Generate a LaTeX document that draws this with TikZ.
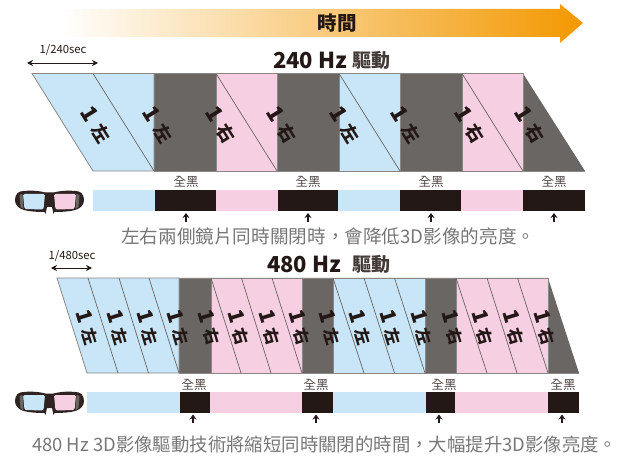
\documentclass[tikz,border=0pt]{standalone}
\usepackage{fontspec}
\setmainfont{Noto Sans CJK TC}
\usetikzlibrary{arrows.meta}
\definecolor{lensblue}{HTML}{C9E6F8}
\definecolor{lenspink}{HTML}{F6CFE3}
\definecolor{darkgrey}{HTML}{6A6663}
\definecolor{inkblack}{HTML}{231815}
\definecolor{edgegrey}{HTML}{8A8785}
\definecolor{bodygrey}{HTML}{777777}
\definecolor{timeorange}{HTML}{F39800}
\newcommand{\fs}[1]{\fontsize{#1}{#1}\selectfont}
\newcommand{\fullcomma}{\char"FF0C\relax}
\newcommand{\myglasses}[2]{%
  \begin{scope}[shift={(#1,#2)}]
    \fill[inkblack!95] (-34.5,-2) .. controls (-34.5,-8) and (-31,-11) .. (-26,-11)
      .. controls (-15,-12) and (-8,-10.5) .. (-4,-9.5) -- (4,-9.5)
      .. controls (8,-10.5) and (15,-12) .. (26,-11)
      .. controls (31,-11) and (34.5,-8) .. (34.5,-2)
      .. controls (34.5,3) and (31,6) .. (27,7.5)
      .. controls (22,9.5) and (12,10) .. (5,10) -- (4,12) -- (2.5,5) -- (-2.5,5) -- (-4,12) -- (-5,10)
      .. controls (-12,10) and (-22,9.5) .. (-27,7.5)
      .. controls (-31,6) and (-34.5,3) .. (-34.5,-2) -- cycle;
    \fill[darkgrey] (-30,-7) -- (-27,-8) -- (-26,7) -- (-29,5) -- cycle;
    \fill[darkgrey] (30,-7) -- (27,-8) -- (26,7) -- (29,5) -- cycle;
    \fill[lensblue,rounded corners=1.5] (-26.5,-8) -- (-4.5,-8) -- (-6,7.5) -- (-25,7) -- cycle;
    \fill[lenspink,rounded corners=1.5] (26.5,-8) -- (4.5,-8) -- (6,7.5) -- (25,7) -- cycle;
  \end{scope}}
\tikzset{
  bandedge/.style={draw=edgegrey,line width=.8pt},
  thinline/.style={draw=darkgrey,line width=.7pt},
  framelabel/.style={text=inkblack,font=\fs{18}\bfseries,inner sep=0pt},
  blacklabel/.style={text=inkblack!80,font=\fs{12.5},inner sep=0pt},
  bodytext/.style={text=bodygrey,font=\fs{18.62},inner sep=0pt},
  hztitle/.style={text=inkblack,font=\fs{22}\bfseries,inner sep=0pt},
  drivetitle/.style={text=inkblack!85,font=\fs{19}\bfseries,inner sep=0pt},
  timelabel/.style={text=inkblack,font=\fs{11.3},inner sep=0pt},
  spanarrow/.style={draw=inkblack,line width=.9pt,{Stealth[length=6pt,width=6pt]}-{Stealth[length=6pt,width=6pt]}},
  pointarrow/.style={draw=inkblack,line width=1.3pt,-{Stealth[length=5pt,width=7pt]}}
}
\begin{document}
\begin{tikzpicture}[x=1pt,y=-1pt]
\useasboundingbox (0,0) rectangle (619,457);
% time arrow
\shade[left color=white,right color=timeorange]
  (60,9) -- (560,9) -- (560,4) -- (583,23) -- (560,43) -- (560,37) -- (60,37) -- cycle;
\node[text=inkblack,font=\fs{19.5}\bfseries,inner sep=0pt] (timetitle) at (337,23) {時間};

% ---------- 240 Hz ----------
\node[timelabel] (t240) at (63,50) {1/240sec};
\coordinate (s240a) at (27,63); \coordinate (s240b) at (98,63);
\draw[spanarrow] (s240a) -- (s240b);
\node[hztitle,anchor=west] (hz240) at (273,60) {240 Hz};
\node[drivetitle,anchor=west] (dr240) at (352,60) {驅動};

\fill[darkgrey] (154,73.5) -- (523,73.5) -- (585,171) -- (154,171) -- cycle;
\draw[bandedge,fill=lensblue] (32,73.5) -- (154,73.5) -- (154,171) -- (93,171) -- cycle;
\draw[bandedge,fill=lenspink] (216,73.5) rectangle (277,171);
\draw[bandedge,fill=lensblue] (339,73.5) rectangle (400,171);
\draw[bandedge,fill=lenspink] (462,73.5) rectangle (523,171);
\draw[edgegrey,line width=.8pt] (154,73.5) -- (523,73.5) (154,171) -- (585,171);
\foreach \a/\b in {93/154,216/277,339/400,462/523}
  \draw[thinline] (\a,73.5) -- (\b,171);
\foreach \x/\t [count=\i] in {96/左,158/左,221/右,282/右,345/左,406/左,470/右,530/右}
  \node[framelabel,rotate=-58] (la\i) at (\x,125) {{\fs{22}1}\hspace{7pt}\t};

\fill[lensblue] (93,190) rectangle (155,211);
\fill[inkblack] (155,190) rectangle (216,211);
\fill[lenspink] (216,190) rectangle (278,211);
\fill[inkblack] (278,190) rectangle (338,211);
\fill[lensblue] (338,190) rectangle (400,211);
\fill[inkblack] (400,190) rectangle (461,211);
\fill[lenspink] (461,190) rectangle (523,211);
\fill[inkblack] (523,190) rectangle (585,211);
\foreach \x [count=\i] in {186,308,431,554}{
  \node[blacklabel] (ka\i) at (\x,182) {全黑};
  \coordinate (ta\i) at (\x,222); \coordinate (ha\i) at (\x,213);
  \draw[pointarrow] (ta\i) -- (ha\i);
}
\myglasses{49.5}{202}
\node[bodytext,anchor=west] (body240) at (121,236) {左右兩側鏡片同時關閉時\fullcomma 會降低3D影像的亮度。};

% ---------- 480 Hz ----------
\node[timelabel] (t480) at (72,256) {1/480sec};
\coordinate (s480a) at (51,268); \coordinate (s480b) at (92,268);
\draw[spanarrow] (s480a) -- (s480b);
\node[hztitle,anchor=west] (hz480) at (267,264) {480 Hz};
\node[drivetitle,anchor=west] (dr480) at (352,264) {驅動};

\fill[darkgrey] (179,278) -- (548,278) -- (579,373) -- (179,373) -- cycle;
\draw[bandedge,fill=lensblue] (57,278) -- (179,278) -- (179,373) -- (87,373) -- cycle;
\draw[bandedge,fill=lenspink] (211,278) rectangle (302,373);
\draw[bandedge,fill=lensblue] (333,278) rectangle (425,373);
\draw[bandedge,fill=lenspink] (456,278) rectangle (548,373);
\draw[edgegrey,line width=.8pt] (179,278) -- (548,278) (179,373) -- (579,373);
\foreach \a/\b in {88/118,119/148.5,149/179,211/241,241.5/271,272/302,333/364,364/394.5,394.5/425,456/487,487/517,517.5/548}
  \draw[thinline] (\a,278) -- (\b,373);
\foreach \x/\t [count=\i] in {87.5/左,118/左,148/左,178.5/左,209.5/右,239/右,270/右,300/右,330/左,360.5/左,391/左,422/左,453/右,483/右,514/右,545/右}
  \node[framelabel,rotate=-73,font=\fs{16.5}\bfseries] (lb\i) at (\x,327) {{\fs{21}1}\hspace{6pt}\t};

\fill[lensblue] (87,392) rectangle (180,413);
\fill[inkblack] (180,392) rectangle (210,413);
\fill[lenspink] (210,392) rectangle (302,413);
\fill[inkblack] (302,392) rectangle (333,413);
\fill[lensblue] (333,392) rectangle (426,413);
\fill[inkblack] (426,392) rectangle (455,413);
\fill[lenspink] (455,392) rectangle (548,413);
\fill[inkblack] (548,392) rectangle (579,413);
\foreach \x/\y [count=\i] in {194/193,316/316,444/439,563/562}{
  \node[blacklabel] (kb\i) at (\x,385) {全黑};
  \coordinate (tb\i) at (\y,423); \coordinate (hb\i) at (\y,414.5);
  \draw[pointarrow] (tb\i) -- (hb\i);
}
\myglasses{49.5}{403}
\node[bodytext,anchor=west,font=\fs{18.4}] (body480) at (32,445) {480 Hz 3D影像驅動技術將縮短同時關閉的時間\fullcomma 大幅提升3D影像亮度。};
\end{tikzpicture}
\end{document}
